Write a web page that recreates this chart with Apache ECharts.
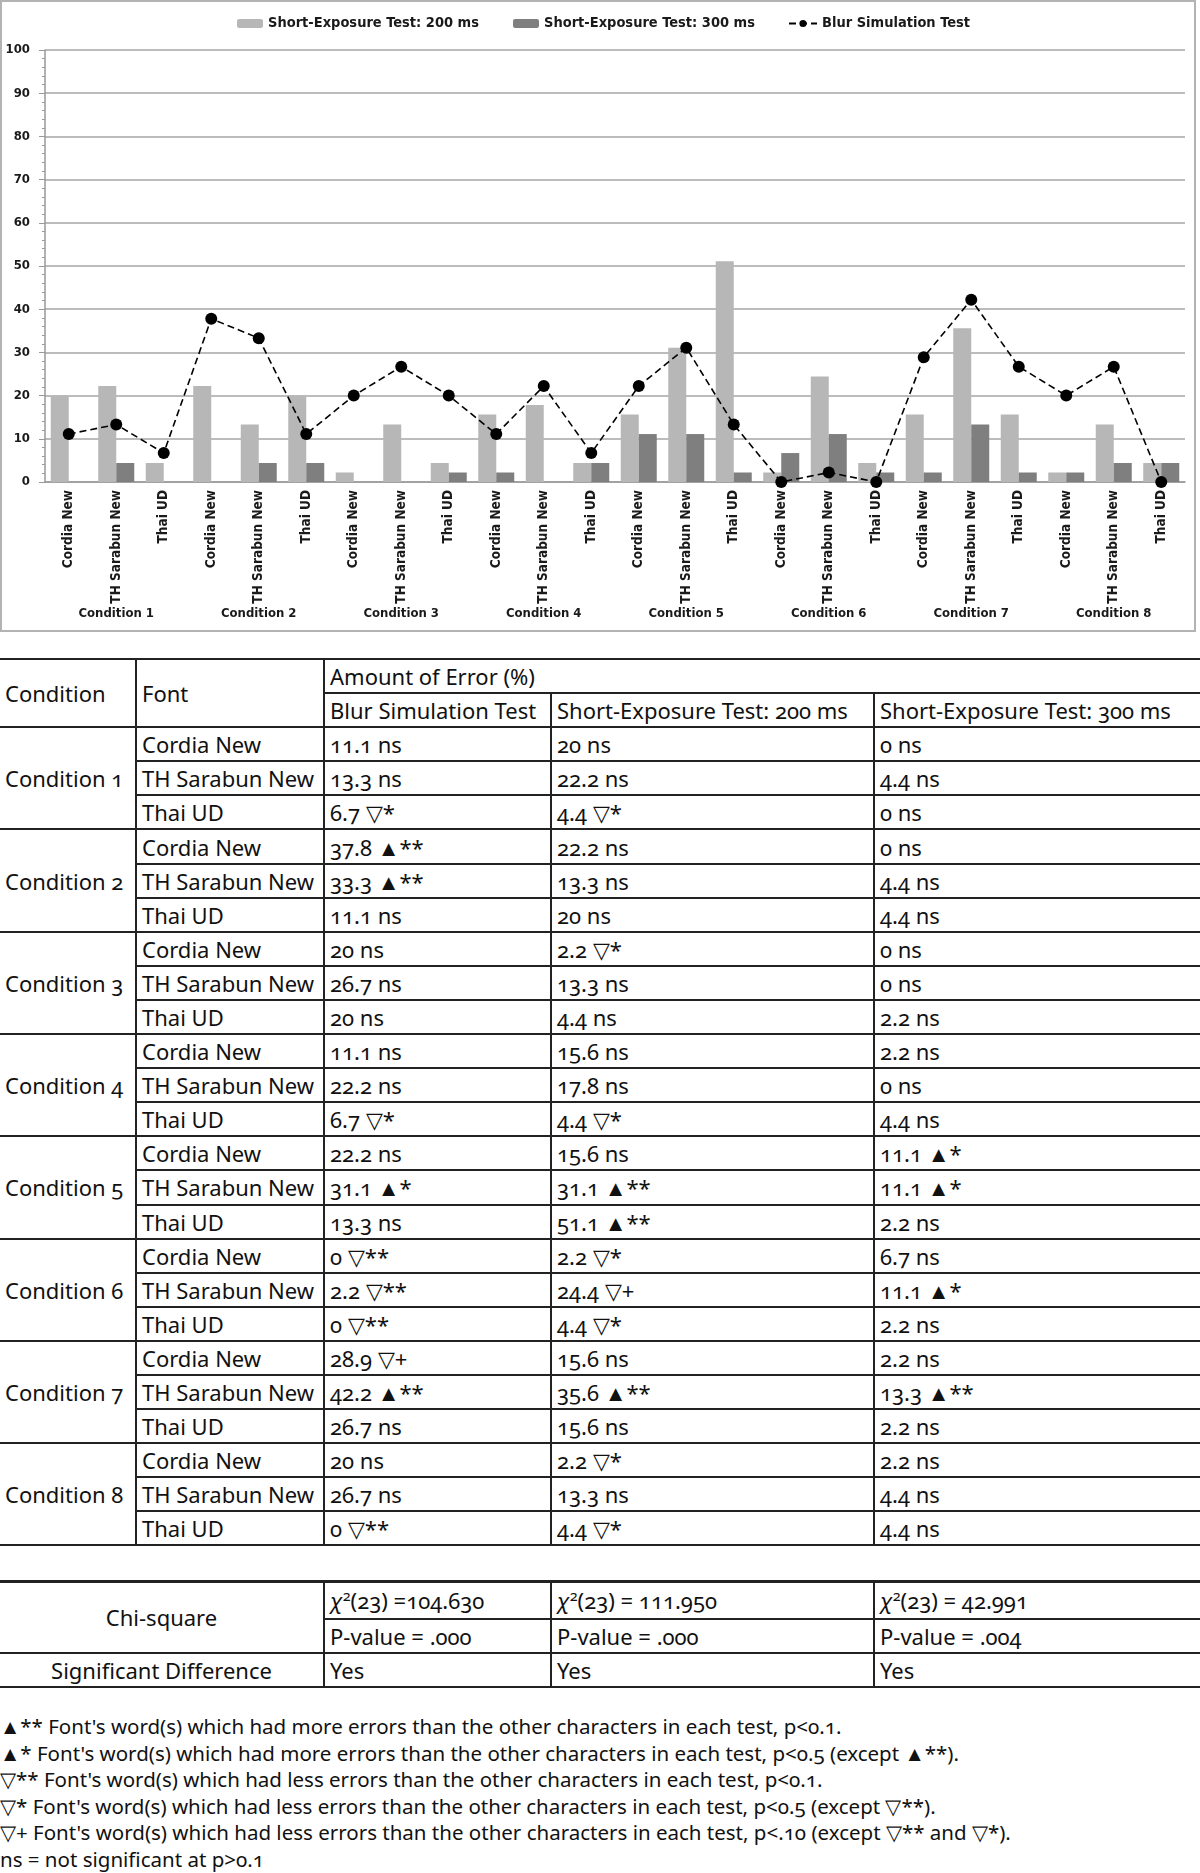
<!DOCTYPE html>
<html>
<head>
<meta charset="utf-8">
<script src="https://cdn.jsdelivr.net/npm/echarts@6/dist/echarts.min.js"></script>
<style>
  body { margin: 0; width: 1200px; height: 1873px; position: relative; background: #fff; color: #111;
         font-family: 'Noto Sans', sans-serif; font-variant-numeric: oldstyle-nums; }
  #frame { position: absolute; left: 0; top: 0; width: 1192px; height: 628px; border: 2px solid #b3b3b3; }
  #main { position: absolute; left: 0; top: 0; width: 1200px; height: 640px; }
  table { position: absolute; left: 0; width: 1200px; border-collapse: collapse; table-layout: fixed; font-size: 22px; }
  td { padding: 0 0 0 5px; white-space: nowrap; vertical-align: middle; line-height: 1;
       border-top: 2px solid #222; border-bottom: 2px solid #222; }
  td.v { border-left: 2px solid #222; }
  #tbl { top: 658px; }
  #tbl tr { height: 34.1px; }
  #chi { top: 1580px; }
  #chi tr { height: 34px; }
  #chi tr.first { height: 37px; }
  #chi td.c { text-align: center; padding: 0; }
  #chi tr.first td { border-top: 3px solid #222; }
  #notes { position: absolute; left: 0; top: 1713px; font-size: 20.5px; line-height: 26.6px; white-space: nowrap; }
  sup { font-size: 65%; }
</style>
</head>
<body>
<div id="frame"></div>
<div id="main"></div>
<table id="tbl">
  <colgroup><col style="width:136px"><col style="width:188px"><col style="width:227px"><col style="width:323px"><col style="width:326px"></colgroup>
  <tbody id="tbody"></tbody>
</table>
<table id="chi">
  <colgroup><col style="width:136px"><col style="width:188px"><col style="width:227px"><col style="width:323px"><col style="width:326px"></colgroup>
  <tr class="first"><td class="c" colspan="2" rowspan="2">Chi-square</td>
    <td class="v"><i>χ</i><sup>2</sup>(23) =104.630</td>
    <td class="v"><i>χ</i><sup>2</sup>(23) = 111.950</td>
    <td class="v"><i>χ</i><sup>2</sup>(23) = 42.991</td></tr>
  <tr><td class="v">P-value = .000</td><td class="v">P-value = .000</td><td class="v">P-value = .004</td></tr>
  <tr><td class="c" colspan="2">Significant Difference</td><td class="v">Yes</td><td class="v">Yes</td><td class="v">Yes</td></tr>
</table>
<div id="notes">
  <div>▲** Font's word(s) which had more errors than the other characters in each test, p&lt;0.1.</div>
  <div>▲* Font's word(s) which had more errors than the other characters in each test, p&lt;0.5 (except ▲**).</div>
  <div>▽** Font's word(s) which had less errors than the other characters in each test, p&lt;0.1.</div>
  <div>▽* Font's word(s) which had less errors than the other characters in each test, p&lt;0.5 (except ▽**).</div>
  <div>▽+ Font's word(s) which had less errors than the other characters in each test, p&lt;.10 (except ▽** and ▽*).</div>
  <div>ns = not significant at p&gt;0.1</div>
</div>
<script>
const conditions = ['Condition 1', 'Condition 2', 'Condition 3', 'Condition 4',
                    'Condition 5', 'Condition 6', 'Condition 7', 'Condition 8'];
const fonts = ['Cordia New', 'TH Sarabun New', 'Thai UD'];
const yTicks = [0, 10, 20, 30, 40, 50, 60, 70, 80, 90, 100];

// amount of error (%), 3 fonts per condition
const blur = [11.1, 13.3, 6.7, 37.8, 33.3, 11.1, 20, 26.7, 20, 11.1, 22.2, 6.7,
              22.2, 31.1, 13.3, 0, 2.2, 0, 28.9, 42.2, 26.7, 20, 26.7, 0];
const ms200 = [20, 22.2, 4.4, 22.2, 13.3, 20, 2.2, 13.3, 4.4, 15.6, 17.8, 4.4,
               15.6, 31.1, 51.1, 2.2, 24.4, 4.4, 15.6, 35.6, 15.6, 2.2, 13.3, 4.4];
const ms300 = [0, 4.4, 0, 0, 4.4, 4.4, 0, 0, 2.2, 2.2, 0, 4.4,
               11.1, 11.1, 2.2, 6.7, 11.1, 2.2, 2.2, 13.3, 2.2, 2.2, 4.4, 4.4];

const blurSig = ['ns', 'ns', '▽*', '▲**', '▲**', 'ns', 'ns', 'ns', 'ns', 'ns', 'ns', '▽*',
                 'ns', '▲*', 'ns', '▽**', '▽**', '▽**', '▽+', '▲**', 'ns', 'ns', 'ns', '▽**'];
const ms200Sig = ['ns', 'ns', '▽*', 'ns', 'ns', 'ns', '▽*', 'ns', 'ns', 'ns', 'ns', '▽*',
                  'ns', '▲**', '▲**', '▽*', '▽+', '▽*', 'ns', '▲**', 'ns', '▽*', 'ns', '▽*'];
const ms300Sig = ['ns', 'ns', 'ns', 'ns', 'ns', 'ns', 'ns', 'ns', 'ns', 'ns', 'ns', 'ns',
                  '▲*', '▲*', 'ns', 'ns', '▲*', 'ns', 'ns', '▲**', 'ns', 'ns', 'ns', 'ns'];

const names = ['Short-Exposure Test: 200 ms', 'Short-Exposure Test: 300 ms', 'Blur Simulation Test'];
const categories = [];
conditions.forEach(() => fonts.forEach(f => categories.push(f)));

const labelFont = "'DejaVu Sans Condensed', sans-serif";

const chart = echarts.init(document.getElementById('main'));
const legendText = { fontFamily: labelFont, fontWeight: 'bold', fontSize: 14.5, color: '#1a1a1a' };
chart.setOption({
  animation: false,
  legend: [
    { left: 232, top: 11, itemWidth: 26, itemHeight: 9, data: [names[0]], textStyle: legendText },
    { left: 508, top: 11, itemWidth: 26, itemHeight: 9, data: [names[1]], textStyle: legendText },
    { left: 783, top: 11, itemWidth: 28, itemHeight: 9, data: [names[2]], textStyle: legendText }
  ],
  grid: { left: 45, top: 50, width: 1140, height: 432, containLabel: false, outerBoundsMode: 'none' },
  xAxis: [
    {
      type: 'category',
      data: categories,
      axisLine: { lineStyle: { color: '#999', width: 1.5 } },
      axisTick: { interval: 0, length: 113, lineStyle: { color: '#aaa', width: 1.2 } },
      axisLabel: { interval: 0, rotate: 90, margin: 8, fontFamily: labelFont, fontWeight: 'bold', fontSize: 13.5, color: '#1a1a1a' }
    },
    {
      type: 'category',
      position: 'bottom',
      data: conditions,
      axisLine: { show: false },
      axisTick: { interval: 0, length: 143, lineStyle: { color: '#aaa', width: 1.2 } },
      axisLabel: { interval: 0, margin: 125, fontFamily: labelFont, fontWeight: 'bold', fontSize: 13, color: '#1a1a1a' }
    }
  ],
  yAxis: {
    type: 'value',
    min: yTicks[0],
    max: yTicks[yTicks.length - 1],
    interval: 10,
    axisLine: { show: true, lineStyle: { color: '#999', width: 1.5 } },
    axisTick: { show: true, length: 6, lineStyle: { color: '#999' } },
    minorTick: { show: true, splitNumber: 5, length: 3, lineStyle: { color: '#999' } },
    splitLine: { lineStyle: { color: '#a6a6a6', width: 1.5 } },
    axisLabel: { margin: 15, fontFamily: labelFont, fontWeight: 'bold', fontSize: 13, color: '#1a1a1a' }
  },
  series: [
    { name: names[0], type: 'bar', data: ms200, barWidth: 18, barGap: '0%', itemStyle: { color: '#b7b7b7' } },
    { name: names[1], type: 'bar', data: ms300, barWidth: 18, barGap: '0%', itemStyle: { color: '#7f7f7f' } },
    {
      name: names[2], type: 'line', data: blur, z: 5,
      symbol: 'circle', symbolSize: 12,
      itemStyle: { color: '#000' },
      lineStyle: { color: '#000', width: 1.6, type: [7, 4] }
    }
  ]
});

// table rows built from the same arrays
const tbody = document.getElementById('tbody');
let html = '<tr><td rowspan="2">Condition</td><td class="v" rowspan="2">Font</td>' +
           '<td class="v" colspan="3">Amount of Error (%)</td></tr>' +
           '<tr><td class="v">Blur Simulation Test</td><td class="v">' + names[0] + '</td><td class="v">' + names[1] + '</td></tr>';
conditions.forEach((c, ci) => {
  fonts.forEach((f, fi) => {
    const i = ci * 3 + fi;
    html += '<tr>';
    if (fi === 0) html += '<td rowspan="3">' + c + '</td>';
    html += '<td class="v">' + f + '</td>' +
            '<td class="v">' + blur[i] + ' ' + blurSig[i] + '</td>' +
            '<td class="v">' + ms200[i] + ' ' + ms200Sig[i] + '</td>' +
            '<td class="v">' + ms300[i] + ' ' + ms300Sig[i] + '</td></tr>';
  });
});
tbody.innerHTML = html;
</script>
</body>
</html>
